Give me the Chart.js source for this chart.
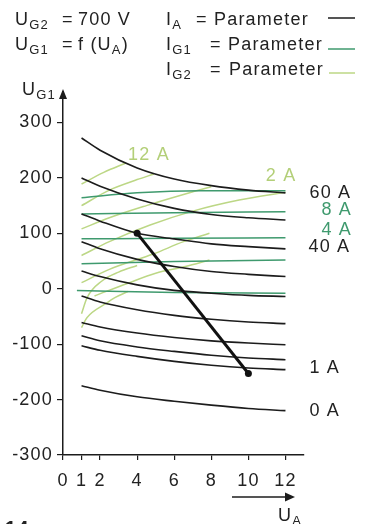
<!DOCTYPE html>
<html>
<head>
<meta charset="utf-8">
<script src="https://cdn.jsdelivr.net/npm/chart.js@4.4.1/dist/chart.umd.min.js"></script>
<style>
  body { margin: 0; background: #fff; }
  canvas { display: block; }
</style>
</head>
<body>
<canvas id="chart" width="369" height="524"></canvas>
<script>
// U_A sample points for the I_A curves
const uaValues = [1, 2, 4, 6, 8, 10, 12];

// I_A = parameter (black), top to bottom
const ia60 = [272, 250, 218, 198, 186, 178, 173];
const iaCurve2 = [200, 185, 162, 145, 134, 128, 124];
const ia40 = [135, 122, 100, 90, 81, 76, 72];
const iaCurve4 = [85, 72, 53, 40, 31, 26, 22];
const iaCurve5 = [32, 22, 7, -3, -8, -12, -14];
const iaCurve6 = [-13, -24, -38, -48, -55, -60, -63];
const iaCurve7 = [-61, -69, -80, -88, -94, -98, -101];
const iaCurve8 = [-85, -94, -105, -113, -120, -125, -128];
const ia1 = [-103, -111, -122, -131, -138, -143, -146];
const ia0 = [-175, -183, -195, -203, -210, -216, -220];

// I_G1 = parameter (green), [U_A, U_G1]
const ig1Top = [[1, 164], [4, 173], [7.4, 177], [12, 177]];
const ig1_8A = [[1, 135], [6, 137], [12, 139]];
const ig1_4A = [[1, 90], [6, 91], [12, 92]];
const ig1Low = [[1, 45], [6, 49], [12, 52]];
const ig1Zero = [[0.75, -3], [6, -7], [12, -8]];

// I_G2 = parameter (yellow green), [U_A, U_G1]
const ig2_12A = [[1, 189], [2.2, 210], [3.4, 227]];
const ig2Line2 = [[1, 150], [2.5, 178], [4, 197], [4.9, 207]];
const ig2Line3 = [[1, 108], [2.5, 128], [4.5, 150], [6.5, 170], [8, 184]];
const ig2_2A = [[1, 60], [2.5, 85], [4.7, 115], [7, 140], [9.5, 160], [12, 174]];
const ig2Line5 = [[1, 11], [2.5, 35], [4.9, 63], [6.5, 85], [7.9, 100]];
const ig2Line6 = [[1.7, -13], [3.5, 10], [5, 28], [6.6, 40], [7.9, 52]];
const ig2Line7 = [[1, -45], [1.3, -16], [2.1, 14], [3, 30], [4, 42]];
const ig2Line8 = [[1, -70], [1.3, -52], [2.3, -27], [2.8, -16], [3.5, -5]];

// operating line between the two dots
const workLine = [[4, 100], [10, -153]];

const xTicks = [0, 1, 2, 4, 6, 8, 10, 12];
const yTicks = [-300, -200, -100, 0, 100, 200, 300];

const FONT = '"Liberation Sans", Arial, sans-serif';
const TEXT = '#222';
const BLACK = '#1c1c1c';
const GREEN = '#3f9a6e';
const YELLOW = '#bcd785';
const SPACING = '1.2px';

function lineSet(points, color, width, order) {
    return {
        data: points.map(([x, y]) => ({x, y})),
        showLine: true,
        borderColor: color,
        borderWidth: width,
        pointRadius: 0,
        cubicInterpolationMode: 'monotone',
        fill: false,
        order
    };
}

const iaCurves = [ia60, iaCurve2, ia40, iaCurve4, iaCurve5, iaCurve6, iaCurve7, iaCurve8, ia1, ia0];
const ig1Lines = [ig1Top, ig1_8A, ig1_4A, ig1Low, ig1Zero];
const ig2Lines = [ig2_12A, ig2Line2, ig2Line3, ig2_2A, ig2Line5, ig2Line6, ig2Line7, ig2Line8];

const datasets = [];
ig2Lines.forEach((l) => datasets.push(lineSet(l, YELLOW, 1.5, 3)));
ig1Lines.forEach((l) => datasets.push(lineSet(l, GREEN, 1.5, 2)));
iaCurves.forEach((c) => datasets.push(lineSet(uaValues.map((x, i) => [x, c[i]]), BLACK, 1.6, 1)));
const work = lineSet(workLine, '#111', 3, 0);
work.pointRadius = 3.5;
work.pointBackgroundColor = '#111';
work.pointBorderWidth = 0;
datasets.push(work);

// text with subscripts: parts = [[text, isSub], ...]
function drawRich(ctx, x, y, parts) {
    let cx = x;
    parts.forEach(([t, sub]) => {
        ctx.font = sub ? `13px ${FONT}` : `18px ${FONT}`;
        ctx.fillText(t, cx, sub ? y + 4 : y);
        cx += ctx.measureText(t).width;
    });
    return cx;
}

function hLine(ctx, x1, x2, y, color) {
    ctx.strokeStyle = color;
    ctx.lineWidth = 1.5;
    ctx.beginPath();
    ctx.moveTo(x1, y);
    ctx.lineTo(x2, y);
    ctx.stroke();
}

const spacingPlugin = {
    id: 'spacing',
    beforeDraw(chart) {
        chart.ctx.letterSpacing = SPACING;
    }
};

const annotations = {
    id: 'annotations',
    afterDraw(chart) {
        const ctx = chart.ctx;
        const xs = chart.scales.x, ys = chart.scales.y;
        ctx.save();
        ctx.letterSpacing = SPACING;
        ctx.fillStyle = TEXT;
        ctx.textBaseline = 'alphabetic';
        ctx.textAlign = 'left';

        // header left
        drawRich(ctx, 15, 25, [['U'], ['G2', 1]]);
        drawRich(ctx, 62, 25, [['=']]);
        drawRich(ctx, 78, 25, [['700 V']]);
        drawRich(ctx, 15, 50, [['U'], ['G1', 1]]);
        drawRich(ctx, 62, 50, [['=']]);
        drawRich(ctx, 78, 50, [['f (U'], ['A', 1], [')']]);

        // header right
        drawRich(ctx, 166, 25, [['I'], ['A', 1]]);
        drawRich(ctx, 196, 25, [['=']]);
        drawRich(ctx, 214, 25, [['Parameter']]);
        hLine(ctx, 328, 355, 18, BLACK);
        drawRich(ctx, 166, 50, [['I'], ['G1', 1]]);
        drawRich(ctx, 210, 50, [['=']]);
        drawRich(ctx, 228, 50, [['Parameter']]);
        hLine(ctx, 328, 355, 49, GREEN);
        drawRich(ctx, 166, 75, [['I'], ['G2', 1]]);
        drawRich(ctx, 210, 75, [['=']]);
        drawRich(ctx, 229, 75, [['Parameter']]);
        hLine(ctx, 329, 355, 73, YELLOW);

        // y axis arrow + label
        const ax = xs.left;
        ctx.fillStyle = BLACK;
        ctx.beginPath();
        ctx.moveTo(ax, ys.top - 3);
        ctx.lineTo(ax - 4, ys.top + 7);
        ctx.lineTo(ax + 4, ys.top + 7);
        ctx.closePath();
        ctx.fill();
        ctx.fillStyle = TEXT;
        drawRich(ctx, 22, 95, [['U'], ['G1', 1]]);

        // U_A arrow below the x axis
        hLine(ctx, 232, 288, 497, BLACK);
        ctx.fillStyle = BLACK;
        ctx.beginPath();
        ctx.moveTo(295, 497);
        ctx.lineTo(285, 492.5);
        ctx.lineTo(285, 501.5);
        ctx.closePath();
        ctx.fill();
        ctx.fillStyle = TEXT;
        drawRich(ctx, 278, 521, [['U'], ['A', 1]]);

        // curve labels at the right
        ctx.textBaseline = 'middle';
        ctx.font = `18px ${FONT}`;
        const right = xs.getPixelForValue(12);
        const endOf = (arr) => ys.getPixelForValue(arr[arr.length - 1]);
        const endPt = (arr) => ys.getPixelForValue(arr[arr.length - 1][1]);
        ctx.fillStyle = TEXT;
        ctx.fillText('60 A', right + 24, endOf(ia60));
        ctx.fillText('40 A', right + 23, endOf(ia40) - 2);
        ctx.fillText('1 A', right + 24, endOf(ia1) - 2);
        ctx.fillText('0 A', right + 24, endOf(ia0));
        ctx.fillStyle = GREEN;
        ctx.fillText('8 A', right + 36, endPt(ig1_8A) - 2);
        ctx.fillText('4 A', right + 36, endPt(ig1_4A) - 8);

        ctx.fillStyle = '#b3cf78';
        const p12 = ig2_12A[ig2_12A.length - 1];
        ctx.fillText('12 A', xs.getPixelForValue(p12[0]) + 2, ys.getPixelForValue(p12[1]) - 8);
        const p2 = ig2_2A[ig2_2A.length - 1];
        ctx.textAlign = 'right';
        ctx.fillText('2 A', xs.getPixelForValue(p2[0]) + 11, ys.getPixelForValue(p2[1]) - 16);

        // figure number, cut at the bottom edge
        ctx.textAlign = 'left';
        ctx.textBaseline = 'top';
        ctx.fillStyle = TEXT;
        ctx.font = `bold 20px ${FONT}`;
        ctx.fillText('14', 5, 519);
        ctx.restore();
    }
};

const tickFont = {family: FONT, size: 18};

new Chart(document.getElementById('chart'), {
    type: 'scatter',
    data: {datasets},
    options: {
        responsive: false,
        animation: false,
        devicePixelRatio: 1,
        layout: {padding: {top: 92, right: 65, bottom: 0, left: 0}},
        plugins: {legend: {display: false}, tooltip: {enabled: false}},
        scales: {
            x: {
                type: 'linear', min: 0, max: 13,
                afterBuildTicks: (s) => { s.ticks = xTicks.map((v) => ({value: v})); },
                afterFit: (s) => { s.height = 69; },
                grid: {display: true, drawOnChartArea: false, drawTicks: true, tickLength: 5, color: BLACK, lineWidth: 1.2},
                border: {display: true, color: BLACK, width: 1.5},
                ticks: {font: tickFont, color: TEXT, padding: 10, maxRotation: 0, autoSkip: false}
            },
            y: {
                type: 'linear', min: -300, max: 355,
                afterBuildTicks: (s) => { s.ticks = yTicks.map((v) => ({value: v})); },
                afterFit: (s) => { s.width = 63; },
                grid: {display: true, drawOnChartArea: false, drawTicks: true, tickLength: 6, color: BLACK, lineWidth: 1.2},
                border: {display: true, color: BLACK, width: 1.5},
                ticks: {font: tickFont, color: TEXT, padding: 4, autoSkip: false}
            }
        }
    },
    plugins: [spacingPlugin, annotations]
});
</script>
</body>
</html>
